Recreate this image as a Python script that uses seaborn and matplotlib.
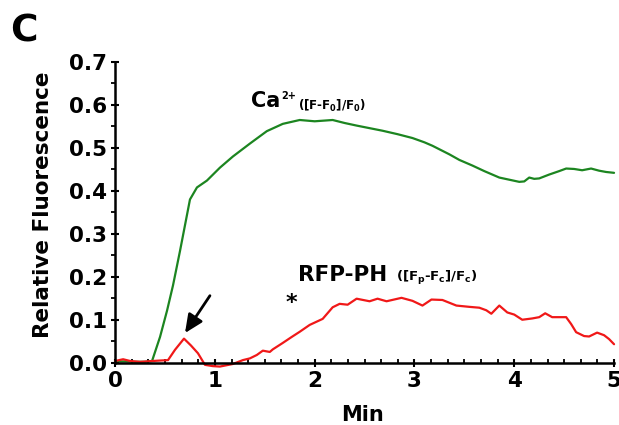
import matplotlib
matplotlib.use("Agg")
import matplotlib.pyplot as plt
import seaborn as sns
from matplotlib.ticker import MultipleLocator

# Datos (minutos, fluorescencia relativa)
t_calcio = [0, 0.1, 0.2, 0.3, 0.37, 0.45, 0.52, 0.58, 0.65, 0.70, 0.75, 0.82, 0.92,
            1.05, 1.18, 1.35, 1.52, 1.68, 1.85, 2.0, 2.18, 2.3, 2.42, 2.55, 2.68,
            2.83, 2.98, 3.1, 3.18, 3.35, 3.45, 3.58, 3.7, 3.85, 3.95, 4.05, 4.1,
            4.15, 4.2, 4.25, 4.35, 4.45, 4.52, 4.6, 4.68, 4.77, 4.85, 4.92, 5.0]
y_calcio = [0.003, 0.003, 0.002, 0.002, 0.004, 0.06, 0.121, 0.18, 0.26, 0.32, 0.38,
            0.408, 0.424, 0.454, 0.48, 0.51, 0.539, 0.556, 0.565, 0.562, 0.565, 0.558,
            0.552, 0.546, 0.54, 0.532, 0.523, 0.513, 0.505, 0.485, 0.472, 0.459, 0.446,
            0.431, 0.426, 0.421, 0.422, 0.431, 0.428, 0.429, 0.438, 0.446, 0.452, 0.451,
            0.448, 0.452, 0.447, 0.444, 0.442]

t_rfp = [0, 0.08, 0.15, 0.25, 0.38, 0.45, 0.53, 0.6, 0.69, 0.76, 0.83, 0.9, 0.98, 1.05,
         1.18, 1.28, 1.35, 1.42, 1.48, 1.55, 1.58, 1.68, 1.77, 1.85, 1.95, 2.08, 2.18,
         2.25, 2.33, 2.42, 2.55, 2.63, 2.72, 2.87, 2.98, 3.08, 3.17, 3.28, 3.42, 3.55,
         3.65, 3.72, 3.77, 3.85, 3.93, 4.0, 4.08, 4.18, 4.25, 4.31, 4.38, 4.45, 4.52,
         4.57, 4.62, 4.7, 4.75, 4.83, 4.9, 4.95, 5.0]
y_rfp = [0.004, 0.008, 0.004, 0.002, 0.004, 0.005, 0.006, 0.03, 0.056, 0.04, 0.022,
         -0.005, -0.008, -0.009, -0.003, 0.006, 0.01, 0.018, 0.028, 0.025, 0.031, 0.046,
         0.06, 0.072, 0.088, 0.102, 0.129, 0.137, 0.135, 0.149, 0.143, 0.149, 0.143,
         0.151, 0.144, 0.133, 0.147, 0.146, 0.133, 0.13, 0.128, 0.122, 0.114, 0.133,
         0.117, 0.112, 0.1, 0.103, 0.106, 0.115, 0.106, 0.106, 0.106, 0.09, 0.071,
         0.062, 0.061, 0.07, 0.064, 0.055, 0.043]

# Estilo
sns.set_style("ticks")
plt.rcParams['font.family'] = ['DejaVu Sans']
plt.rcParams['font.weight'] = 'bold'
plt.rcParams['axes.labelweight'] = 'bold'
plt.rcParams['mathtext.default'] = 'bf'
plt.rcParams['text.color'] = 'black'
plt.rcParams['axes.labelcolor'] = 'black'
plt.rcParams['xtick.color'] = 'black'
plt.rcParams['ytick.color'] = 'black'

fig = plt.figure(figsize=(6.19, 4.25), dpi=100)
ax = fig.add_axes([0.186, 0.1466, 0.806, 0.7075])

sns.lineplot(x=t_calcio, y=y_calcio, color='#1c8520', linewidth=1.6, ax=ax, clip_on=False)
sns.lineplot(x=t_rfp, y=y_rfp, color='#f01818', linewidth=1.6, ax=ax, clip_on=False)

ax.set_xlim(0, 5)
ax.set_ylim(0, 0.7)
ax.xaxis.set_major_locator(MultipleLocator(1))
ax.xaxis.set_minor_locator(MultipleLocator(1 / 6))
ax.yaxis.set_major_locator(MultipleLocator(0.1))
ax.yaxis.set_minor_locator(MultipleLocator(0.05))
ax.set_xticklabels([f'{int(v)}' for v in ax.get_xticks()])
ax.set_yticklabels([f'{v:.1f}' for v in ax.get_yticks()])

sns.despine(ax=ax)
for s in ['left', 'bottom']:
    ax.spines[s].set_linewidth(1.8)
    ax.spines[s].set_color('black')

ax.tick_params(axis='both', which='major', direction='inout', length=6, width=1.5,
               labelsize=15.5, pad=3, colors='black')
ax.tick_params(axis='x', which='minor', direction='in', length=3, width=1.3, colors='black')
ax.tick_params(axis='y', which='minor', direction='out', length=3, width=1.3, colors='black')
for lab in ax.get_xticklabels() + ax.get_yticklabels():
    lab.set_fontweight('bold')

ax.set_xlabel('Min', fontsize=15, fontweight='bold', color='black')
ax.set_ylabel('Relative Fluorescence', fontsize=15.5, fontweight='bold', color='black')
ax.xaxis.set_label_coords(0.495, -0.14)
ax.yaxis.set_label_coords(-0.124, 0.526)

# Etiquetas de las curvas
ax.text(1.357, 0.595, 'Ca', fontsize=15, fontweight='bold', va='baseline', ha='left')
ax.text(1.66, 0.613, '2+', fontsize=7, fontweight='bold', va='baseline', ha='left')
ax.text(1.83, 0.589, '([F-F$_0$]/F$_0$)', fontsize=8.5, va='baseline', ha='left')
ax.text(1.833, 0.19, 'RFP-PH', fontsize=15.5, fontweight='bold', va='baseline', ha='left')
ax.text(2.817, 0.19, '([F$_p$-F$_c$]/F$_c$)', fontsize=9.5, va='baseline', ha='left')
ax.text(1.77, 0.14, '*', fontsize=16, fontweight='bold', va='center', ha='center')

# Flecha
ax.annotate('', xy=(0.70, 0.069), xytext=(0.95, 0.156),
            arrowprops=dict(arrowstyle='-|>,head_length=0.55,head_width=0.25',
                            mutation_scale=20, color='black', lw=2,
                            shrinkA=0, shrinkB=0))

fig.text(10 / 619, 1 - 42 / 425, 'C', fontsize=27, fontweight='bold', va='baseline',
         ha='left', color='black')

plt.savefig('out.png', dpi=100)
